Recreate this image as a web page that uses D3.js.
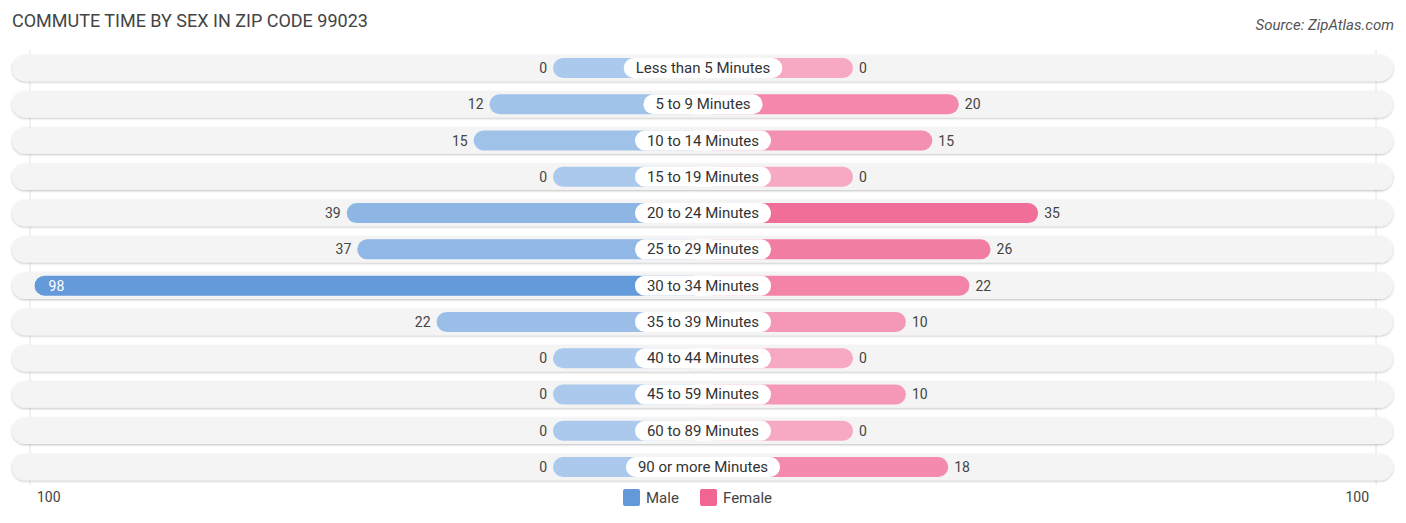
<!DOCTYPE html><html><head><meta charset="utf-8"><script src="https://cdn.jsdelivr.net/npm/d3@7"></script>
<style>body{margin:0;background:#fff;font-family:Roboto,sans-serif}</style></head><body><svg id="c" width="1406" height="523"></svg>
<script>
const categories=["Less than 5 Minutes","5 to 9 Minutes","10 to 14 Minutes","15 to 19 Minutes","20 to 24 Minutes","25 to 29 Minutes","30 to 34 Minutes","35 to 39 Minutes","40 to 44 Minutes","45 to 59 Minutes","60 to 89 Minutes","90 or more Minutes"];
const male=[0,12,15,0,39,37,98,22,0,0,0,0];
const female=[0,20,15,0,35,26,22,10,0,10,0,18];
const svg=d3.select("#c");
const cx=703,base=150;
const w=d3.scaleLinear().domain([0,100]).range([base,base+529]);
const y=d3.scaleBand().domain(categories).range([50,485]).paddingInner(0.27).paddingOuter(0.13);
const mc=d3.scaleLinear().domain([0,100]).range(["#aac9ec","#6399d9"]);
const fc=d3.scaleLinear().domain([0,40]).range(["#f7a9c3","#f06592"]);
svg.append("text").attr("x",12).attr("y",27).attr("font-size",18).attr("fill","#444").text("COMMUTE TIME BY SEX IN ZIP CODE 99023");
svg.append("text").attr("x",1394).attr("y",30).attr("text-anchor","end").attr("font-size",15).attr("font-style","italic").attr("fill","#555").text("Source: ZipAtlas.com");
[30,1376].forEach(x=>svg.append("line").attr("x1",x).attr("x2",x).attr("y1",50).attr("y2",485).attr("stroke","#e4e4e4"));
const defs=svg.append("defs");
const f=defs.append("filter").attr("id","sh").attr("x","-5%").attr("y","-30%").attr("width","110%").attr("height","160%");
f.append("feDropShadow").attr("dx",0).attr("dy",1).attr("stdDeviation",1.2).attr("flood-color","#000").attr("flood-opacity",0.25);
categories.forEach((c,i)=>{
 const yc=y(c)+y.bandwidth()/2, h=y.bandwidth();
 svg.append("rect").attr("x",12).attr("y",yc-h/2).attr("width",1381).attr("height",h).attr("rx",h/2).attr("fill","#f4f4f4").attr("filter","url(#sh)");
 const bh=20;
 const mw=w(male[i]),fw=w(female[i]);
 svg.append("rect").attr("x",cx-mw).attr("y",yc-bh/2).attr("width",mw).attr("height",bh).attr("rx",bh/2).attr("fill",mc(male[i]));
 svg.append("rect").attr("x",cx).attr("y",yc-bh/2).attr("width",fw).attr("height",bh).attr("rx",bh/2).attr("fill",fc(female[i]));
 const t=svg.append("text").attr("x",cx).attr("y",yc+5).attr("text-anchor","middle").attr("font-size",15).attr("fill","#333").text(c);
 const tw=t.node().getComputedTextLength()+24;
 svg.insert("rect","text:last-of-type").attr("x",cx-tw/2).attr("y",yc-bh/2).attr("width",tw).attr("height",bh).attr("rx",bh/2).attr("fill","#fff");
 t.raise();
 if(male[i]>80) svg.append("text").attr("x",cx-mw+14).attr("y",yc+5).attr("font-size",14).attr("fill","#fff").text(male[i]);
 else svg.append("text").attr("x",cx-mw-6).attr("y",yc+5).attr("text-anchor","end").attr("font-size",14).attr("fill","#444").text(male[i]);
 svg.append("text").attr("x",cx+fw+6).attr("y",yc+5).attr("font-size",14).attr("fill","#444").text(female[i]);
});
svg.append("text").attr("x",37).attr("y",502).attr("font-size",14).attr("fill","#444").text("100");
svg.append("text").attr("x",1369).attr("y",502).attr("text-anchor","end").attr("font-size",14).attr("fill","#444").text("100");
[["Male","#6399d9",623],["Female","#f06592",700]].forEach(([l,c,x])=>{
 svg.append("rect").attr("x",x).attr("y",489).attr("width",17).attr("height",17).attr("rx",2).attr("fill",c);
 svg.append("text").attr("x",x+23).attr("y",503).attr("font-size",15).attr("fill","#444").text(l);
});
</script></body></html>
